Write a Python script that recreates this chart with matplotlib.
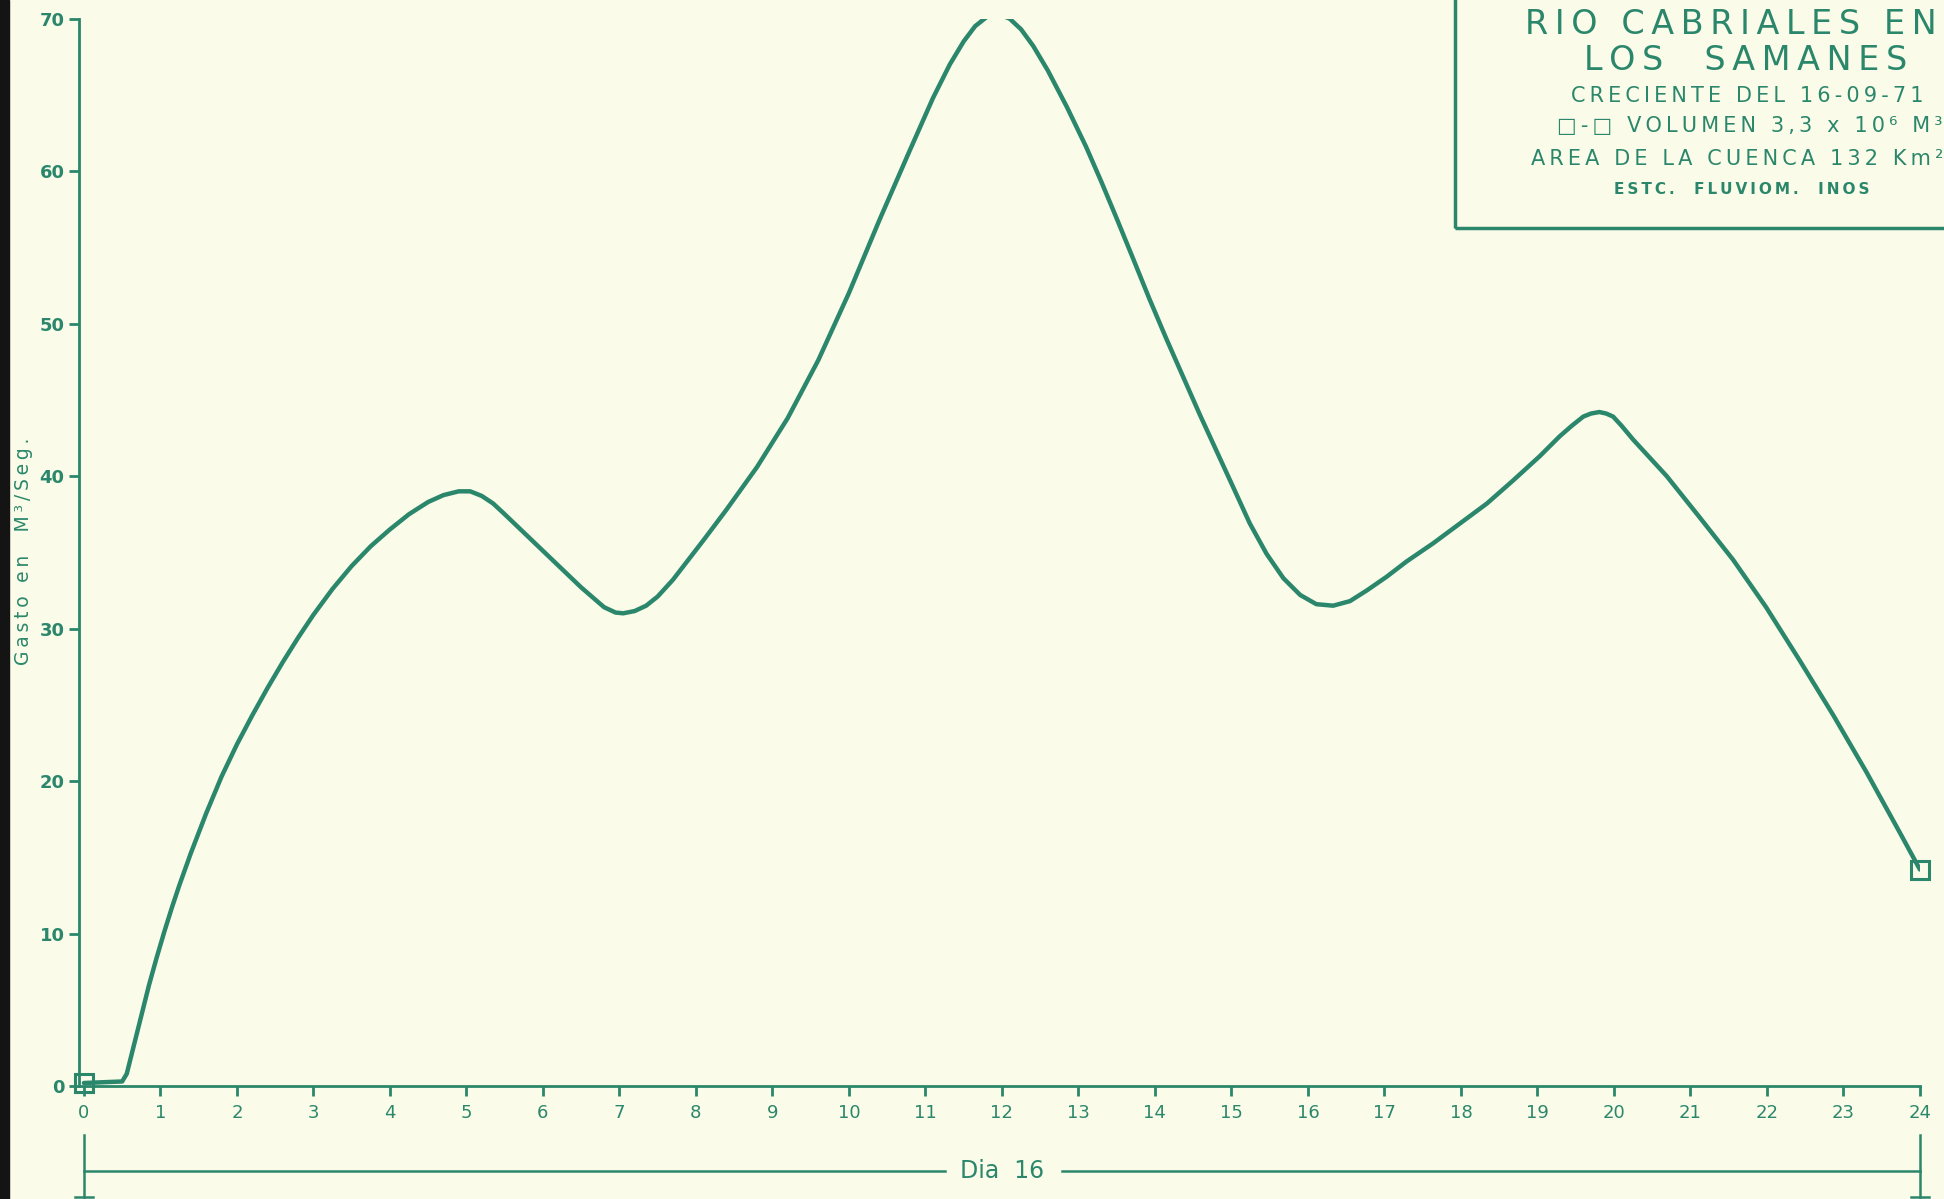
import matplotlib.pyplot as plt
from matplotlib.patches import Rectangle

# hidrograma (hora del dia 16, gasto en m3/s)
horas = [0.00, 0.50, 0.56, 0.65, 0.75, 0.85, 0.95, 1.05, 1.15, 1.25, 1.40, 1.60,
         1.80, 2.00, 2.20, 2.40, 2.60, 2.80, 3.00, 3.25, 3.50, 3.75, 4.00, 4.25,
         4.50, 4.70, 4.90, 5.05, 5.20, 5.35, 5.50, 6.00, 6.50, 6.80, 6.95, 7.05,
         7.20, 7.35, 7.50, 7.70, 7.90, 8.10, 8.40, 8.80, 9.20, 9.60, 10.00,
         10.40, 10.80, 11.10, 11.32, 11.50, 11.65, 11.80, 11.95, 12.10, 12.25,
         12.41, 12.60, 12.85, 13.10, 13.30, 13.50, 13.72, 13.93, 14.15, 14.37,
         14.59, 14.81, 15.03, 15.24, 15.46, 15.68, 15.90, 16.11, 16.33, 16.55,
         16.77, 17.03, 17.29, 17.64, 17.99, 18.34, 18.68, 19.03, 19.29, 19.45,
         19.60, 19.70, 19.81, 19.90, 19.99, 20.10, 20.25, 20.69, 21.12, 21.56,
         21.99, 22.43, 22.87, 23.30, 23.74, 24.00]
gasto = [0.2, 0.3, 0.8, 2.6, 4.6, 6.6, 8.4, 10.1, 11.7, 13.2, 15.3, 17.9,
         20.3, 22.4, 24.3, 26.1, 27.8, 29.4, 30.9, 32.6, 34.1, 35.4, 36.5, 37.5,
         38.3, 38.75, 39.0, 39.0, 38.7, 38.2, 37.5, 35.1, 32.7, 31.4, 31.05, 31.0,
         31.15, 31.5, 32.1, 33.2, 34.5, 35.8, 37.8, 40.6, 43.8, 47.6, 52.0,
         56.8, 61.4, 64.8, 67.0, 68.5, 69.5, 70.1, 70.3, 70.0, 69.3,
         68.2, 66.6, 64.2, 61.6, 59.3, 56.9, 54.2, 51.6, 49.0, 46.5,
         44.0, 41.6, 39.2, 36.9, 34.9, 33.3, 32.2, 31.6, 31.5, 31.8,
         32.5, 33.4, 34.4, 35.6, 36.9, 38.2, 39.7, 41.3, 42.6, 43.3,
         43.9, 44.1, 44.2, 44.1, 43.9, 43.3, 42.4, 40.0, 37.3, 34.5,
         31.4, 27.9, 24.3, 20.6, 16.6, 14.2]

x_ticks = list(range(0, 25))
y_ticks = [0, 10, 20, 30, 40, 50, 60, 70]

titulo = ["RIO CABRIALES EN", "LOS  SAMANES"]
info = ["CRECIENTE DEL 16-09-71",
        "\u25a1-\u25a1 VOLUMEN 3,3 x 10\u2076 M\u00b3",
        "AREA DE LA CUENCA 132 Km\u00b2"]
fuente = "ESTC.  FLUVIOM.  INOS"
y_label = "Gasto en  M\u00b3/Seg."

verde = '#2b876b'
fondo = '#fbfbe9'


def espaciado(s):
    # rotulacion con letras separadas, como la plantilla del original
    return '\u2009'.join(s)


fig = plt.figure(figsize=(19.44, 11.99), dpi=100, facecolor=fondo)
ax = fig.add_axes([0.0404, 0.0942, 0.9472, 0.8903])
ax.set_facecolor(fondo)

ax.plot(horas, gasto, color=verde, linewidth=3.2,
        solid_joinstyle='round', solid_capstyle='round')
# inicio y fin de la creciente
ax.plot([horas[0], horas[-1]], [gasto[0], gasto[-1]], 's', mfc='none',
        mec=verde, ms=13, mew=2.2, clip_on=False)

ax.set_xlim(-0.07, 24)
ax.set_ylim(0, 70)
ax.set_xticks(x_ticks)
ax.set_yticks(y_ticks)

for s in ['top', 'right']:
    ax.spines[s].set_visible(False)
for s in ['left', 'bottom']:
    ax.spines[s].set_color(verde)
    ax.spines[s].set_linewidth(2)

ax.tick_params(colors=verde, width=2, length=7, direction='out', labelsize=13)
ax.tick_params(axis='x', pad=6)
ax.tick_params(axis='y', pad=3)
for lab in ax.get_yticklabels():
    lab.set_fontweight('bold')

fig.text(0.012, 0.54, espaciado(y_label), rotation=90, color=verde,
         fontsize=13.5, ha='center', va='center')

# llave "Dia 16" bajo el eje
yb = -5.6
x0, x1 = x_ticks[0], x_ticks[-1]
kw = dict(color=verde, linewidth=1.8, clip_on=False)
ax.plot([x0, 11.25], [yb, yb], **kw)
ax.plot([12.78, x1], [yb, yb], **kw)
for xe in [x0, x1]:
    ax.plot([xe, xe], [-3.2, -7.3], **kw)
    ax.plot([xe - 0.12, xe + 0.12], [-7.3, -7.3], **kw)
ax.text(12.0, yb, "Dia  16", color=verde, fontsize=17, ha='center',
        va='center', clip_on=False)

# recuadro del titulo
fig.patches.append(Rectangle((1455 / 1944, 1 - 228 / 1199), 0.5, 0.5,
                             transform=fig.transFigure, fill=False,
                             edgecolor=verde, linewidth=2.5))
fig.text(1525 / 1944, 1 - 24 / 1199, espaciado(titulo[0]), color=verde,
         fontsize=24, ha='left', va='center')
fig.text(1746 / 1944, 1 - 60 / 1199, espaciado(titulo[1]), color=verde,
         fontsize=24, ha='center', va='center')
fig.text(1747 / 1944, 1 - 96 / 1199, espaciado(info[0]), color=verde,
         fontsize=15, ha='center', va='center')
fig.text(1750 / 1944, 1 - 126 / 1199, espaciado(info[1]), color=verde,
         fontsize=15, ha='center', va='center')
fig.text(1531 / 1944, 1 - 159 / 1199, espaciado(info[2]), color=verde,
         fontsize=15, ha='left', va='center')
fig.text(1742 / 1944, 1 - 190 / 1199, espaciado(fuente), color=verde,
         fontsize=11, fontweight='bold', ha='center', va='center')

# borde oscuro del escaneo
fig.patches.append(Rectangle((0, 0), 9 / 1944, 1, transform=fig.transFigure,
                             color='#141414'))

fig.savefig('out.png', dpi=100, facecolor=fondo)
